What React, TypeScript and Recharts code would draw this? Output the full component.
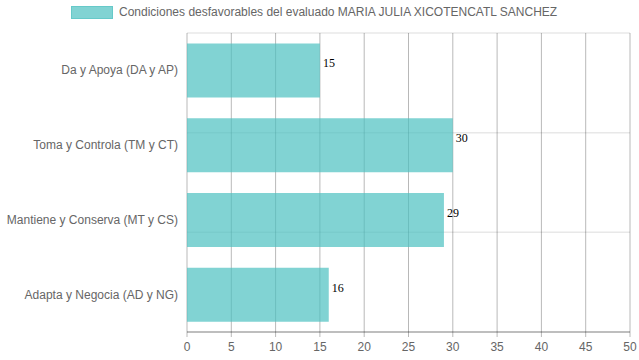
import {
  Bar, BarChart, CartesianGrid, LabelList, Legend, XAxis, YAxis,
} from "recharts";

const categories = [
  "Da y Apoya (DA y AP)",
  "Toma y Controla (TM y CT)",
  "Mantiene y Conserva (MT y CS)",
  "Adapta y Negocia (AD y NG)",
];
const values = [15, 30, 29, 16];
const xTicks = [0, 5, 10, 15, 20, 25, 30, 35, 40, 45, 50];
const bandTicks = [0, 1, 2, 3, 4];
const seriesName = "Condiciones desfavorables del evaluado MARIA JULIA XICOTENCATL SANCHEZ";

const data = categories.map((label, i) => ({ label, v: values[i] }));

const FONT = "'Liberation Sans', Arial, Helvetica, sans-serif";
const TEAL = "rgba(75, 192, 192, 0.7)";
const LIGHT = "#e8e8e8";
const DARK = "rgba(0,0,0,0.28)";

function LegendBox() {
  return (
    <div style={{ display: "flex", alignItems: "center", height: 24, paddingLeft: 71, fontFamily: FONT, fontSize: 12, color: "#666" }}>
      <span style={{ display: "inline-block", width: 40, height: 11, background: TEAL, border: "1px solid rgba(75,192,192,0.5)", marginRight: 6 }} />
      {seriesName}
    </div>
  );
}

// no wrapping for the long category names
function CatTick(props: any) {
  const { x, y, payload } = props;
  return (
    <text x={x} y={y} textAnchor="end" dominantBaseline="central" fontFamily={FONT} fontSize={12} fill="#666">
      {payload.value}
    </text>
  );
}

function ValueLabel(props: any) {
  const { x, y, width, height, value } = props;
  return (
    <text x={x + width + 3} y={y + height / 2 - 7} dominantBaseline="central"
      fontFamily="'Liberation Serif', 'Times New Roman', serif" fontSize={12} fill="#000">
      {value}
    </text>
  );
}

export default function App() {
  return (
    <div style={{ position: "absolute", left: 0, top: 0 }}>
      <BarChart width={639} height={360} data={data} layout="vertical"
        margin={{ top: 9, right: 9, bottom: 0, left: 0 }} barCategoryGap="14%">
        <Legend verticalAlign="top" align="left" content={<LegendBox />}
          wrapperStyle={{ top: 0, left: 0, width: 639, height: 24 }} />
        <CartesianGrid yAxisId="g" vertical={false} stroke={LIGHT} strokeWidth={1.5} />
        <CartesianGrid yAxisId="g" horizontal={false} stroke={DARK} strokeWidth={1} />
        <XAxis type="number" domain={[0, 50]} ticks={xTicks} interval={0}
          tick={{ fill: "#666", fontSize: 12, fontFamily: FONT }} tickSize={5} tickMargin={5}
          tickLine={{ stroke: DARK }} axisLine={{ stroke: "rgba(0,0,0,0.4)" }} height={28} />
        <YAxis yAxisId="g" type="number" domain={[0, 4]} ticks={bandTicks} width={0}
          tick={() => <g />} tickSize={11} tickLine={{ stroke: LIGHT, strokeWidth: 1.5 }} axisLine={false} />
        <YAxis type="category" dataKey="label" width={187} tickLine={false} axisLine={false}
          tickSize={0} tickMargin={9} tick={<CatTick />} />
        <Bar dataKey="v" fill={TEAL} isAnimationActive={false}>
          <LabelList dataKey="v" content={<ValueLabel />} />
        </Bar>
      </BarChart>
    </div>
  );
}
